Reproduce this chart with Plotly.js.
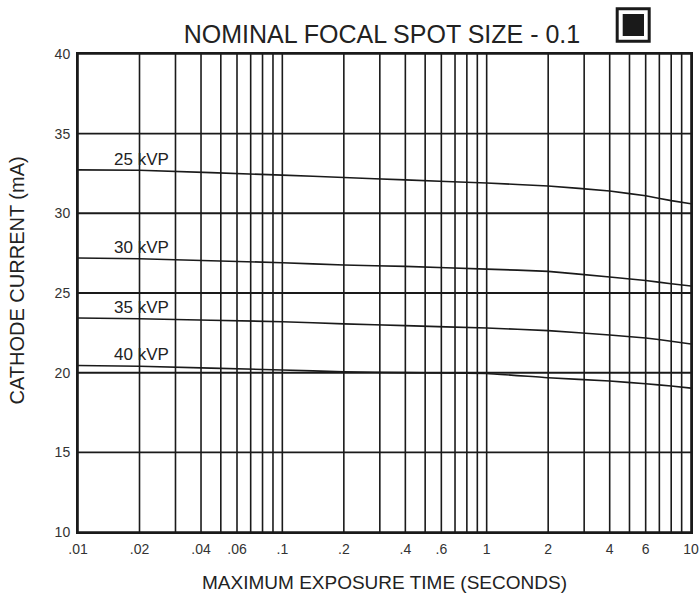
<!DOCTYPE html>
<html>
<head>
<meta charset="utf-8">
<script src="https://cdn.plot.ly/plotly-3.0.1.min.js"></script>
<style>html,body{margin:0;padding:0;background:#fff;}#chart{width:699px;height:593px;}</style>
</head>
<body>
<div id="chart"></div>
<script>
// Exposure time (seconds)
const times = [0.01, 0.02, 0.1, 0.2, 0.4, 1, 2, 4, 6, 8, 10];
// Cathode current (mA) for each kVP
const kvp25 = [32.73, 32.7, 32.4, 32.25, 32.1, 31.9, 31.72, 31.4, 31.1, 30.8, 30.6];
const kvp30 = [27.2, 27.15, 26.9, 26.76, 26.67, 26.5, 26.36, 26.0, 25.78, 25.58, 25.44];
const kvp35 = [23.43, 23.38, 23.2, 23.06, 22.95, 22.8, 22.64, 22.36, 22.18, 21.97, 21.8];
const kvp40 = [20.45, 20.4, 20.17, 20.05, 20.0, 19.95, 19.68, 19.48, 19.3, 19.16, 19.03];
const seriesNames = ["25 kVP", "30 kVP", "35 kVP", "40 kVP"];
const labelY = [33.4, 27.88, 24.09, 21.14];

const xTickVals = [0.01, 0.02, 0.04, 0.06, 0.1, 0.2, 0.4, 0.6, 1, 2, 4, 6, 10];
const xTickText = [".01", ".02", ".04", ".06", ".1", ".2", ".4", ".6", "1", "2", "4", "6", "10"];
const yTickVals = [10, 15, 20, 25, 30, 35, 40];

// grid lines at every 1..9 × decade
const gridX = [];
[0.01, 0.1, 1].forEach(d => { for (let k = 1; k <= 9; k++) gridX.push(+(k * d).toPrecision(3)); });
gridX.push(10);

const M = {l: 78, r: 8, t: 54, b: 61};
const W = 699, H = 593;
const pw = W - M.l - M.r, ph = H - M.t - M.b;
const px = x => (x - M.l) / pw;
const py = y => (H - M.b - y) / ph;

const font = "Liberation Sans, Arial, Helvetica, sans-serif";
const ink = "#1a1a1a";

const allSeries = [kvp25, kvp30, kvp35, kvp40];
const traces = allSeries.map((ys, i) => ({
  x: times, y: ys, type: "scatter", mode: "lines", name: seriesNames[i],
  line: {color: ink, width: 1.6, shape: "spline", smoothing: 0.3},
  showlegend: false, hoverinfo: "x+y+name"
}));

const shapes = [];
gridX.forEach(v => shapes.push({type: "line", xref: "x", yref: "paper", x0: v, x1: v, y0: 0, y1: 1,
  line: {color: ink, width: 1.6}, layer: "below"}));
yTickVals.forEach(v => shapes.push({type: "line", xref: "paper", yref: "y", x0: 0, x1: 1, y0: v, y1: v,
  line: {color: ink, width: (v === 20 || v === 25 || v === 30) ? 2 : 1.6}, layer: "below"}));
// focal spot symbol
shapes.push({type: "rect", xref: "paper", yref: "paper", x0: px(617.2), x1: px(649.2), y0: py(41.2), y1: py(8.8),
  line: {color: ink, width: 3}, fillcolor: "rgba(0,0,0,0)"});
shapes.push({type: "rect", xref: "paper", yref: "paper", x0: px(622.7), x1: px(644), y0: py(36), y1: py(14),
  line: {width: 0}, fillcolor: ink});

const annotations = seriesNames.map((n, i) => ({
  x: Math.log10(0.0146), y: labelY[i], xref: "x", yref: "y", text: n, showarrow: false,
  xanchor: "left", yanchor: "middle", font: {family: font, size: 17, color: "#222"}
}));
// y-axis title (placed as rotated text to match the original's off-centre position)
annotations.push({
  text: "CATHODE CURRENT (mA)", xref: "paper", yref: "paper", x: px(16.5), y: py(281),
  xanchor: "center", yanchor: "middle", textangle: -90, showarrow: false,
  font: {family: font, size: 20, color: "#222"}
});

const layout = {
  width: W, height: H,
  margin: M,
  paper_bgcolor: "#fff", plot_bgcolor: "#fff",
  title: {text: "NOMINAL FOCAL SPOT SIZE - 0.1", x: 382 / W, xanchor: "center", y: 1 - 34 / H, yanchor: "middle",
    yref: "container", xref: "container", font: {family: font, size: 25, color: "#222"}},
  xaxis: {type: "log", range: [-2, 1], tickvals: xTickVals, ticktext: xTickText, showgrid: false, zeroline: false,
    showline: true, mirror: true, linecolor: ink, linewidth: 2, ticks: "", ticklabelstandoff: 3,
    tickfont: {family: font, size: 14, color: "#333"},
    title: {text: "MAXIMUM EXPOSURE TIME (SECONDS)", font: {family: font, size: 19, color: "#222"}, standoff: 20}},
  yaxis: {range: [10, 40], tickvals: yTickVals, showgrid: false, zeroline: false,
    showline: true, mirror: true, linecolor: ink, linewidth: 2, ticks: "", ticklabelstandoff: 3,
    tickfont: {family: font, size: 14, color: "#333"}},
  shapes: shapes,
  annotations: annotations,
  showlegend: false
};

Plotly.newPlot("chart", traces, layout, {staticPlot: true, displayModeBar: false});
</script>
</body>
</html>
